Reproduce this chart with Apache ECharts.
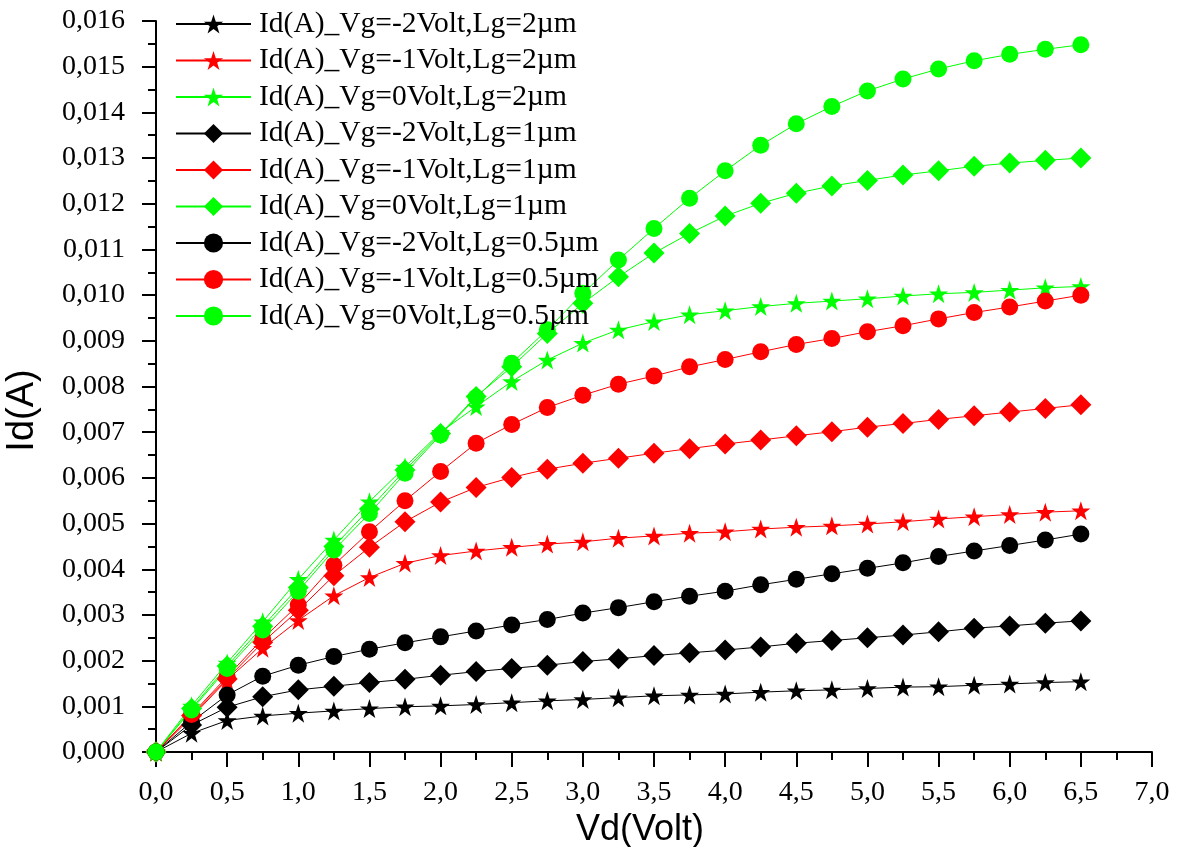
<!DOCTYPE html>
<html>
<head>
<meta charset="utf-8">
<title>Id-Vd characteristics</title>
<script src="https://cdn.jsdelivr.net/npm/echarts@6/dist/echarts.min.js"></script>
<style>
  html, body { margin: 0; padding: 0; background: #ffffff; }
  #chart { width: 1181px; height: 847px; }
</style>
</head>
<body>
<div id="chart"></div>
<script>
// Drain voltage sweep (V)
const vd = [0, 0.25, 0.5, 0.75, 1.0, 1.25, 1.5, 1.75, 2.0, 2.25, 2.5, 2.75, 3.0, 3.25,
            3.5, 3.75, 4.0, 4.25, 4.5, 4.75, 5.0, 5.25, 5.5, 5.75, 6.0, 6.25, 6.5];

// Drain current (A), Lg = 2 µm
const idVgm2Lg2 = [0, 0.00041, 0.00069, 0.00079, 0.00085, 0.00090, 0.00095, 0.00099, 0.00101, 0.00104, 0.00108, 0.00112, 0.00115, 0.00119,
                   0.00123, 0.00125, 0.00127, 0.00131, 0.00134, 0.00136, 0.00139, 0.00142, 0.00143, 0.00146, 0.00149, 0.00152, 0.00154];
const idVgm1Lg2 = [0, 0.00076, 0.00158, 0.00227, 0.00288, 0.00342, 0.00382, 0.00413, 0.00430, 0.00440, 0.00448, 0.00455, 0.00460, 0.00468,
                   0.00473, 0.00479, 0.00482, 0.00488, 0.00492, 0.00495, 0.00499, 0.00504, 0.00510, 0.00515, 0.00520, 0.00525, 0.00528];
const idVg0Lg2 = [0, 0.00101, 0.00195, 0.00285, 0.00378, 0.00464, 0.00548, 0.00624, 0.00700, 0.00756, 0.00811, 0.00858, 0.00895, 0.00924,
                  0.00942, 0.00957, 0.00966, 0.00975, 0.00982, 0.00987, 0.00992, 0.00998, 0.01003, 0.01006, 0.01011, 0.01016, 0.01019];

// Drain current (A), Lg = 1 µm
const idVgm2Lg1 = [0, 0.00059, 0.00098, 0.00121, 0.00136, 0.00144, 0.00152, 0.00159, 0.00168, 0.00176, 0.00183, 0.00190, 0.00198, 0.00204,
                   0.00211, 0.00217, 0.00223, 0.00230, 0.00238, 0.00244, 0.00250, 0.00256, 0.00263, 0.00271, 0.00276, 0.00282, 0.00287];
const idVgm1Lg1 = [0, 0.00080, 0.00160, 0.00240, 0.00310, 0.00386, 0.00448, 0.00504, 0.00547, 0.00579, 0.00601, 0.00619, 0.00632, 0.00643,
                   0.00654, 0.00664, 0.00674, 0.00683, 0.00692, 0.00701, 0.00711, 0.00719, 0.00728, 0.00736, 0.00744, 0.00752, 0.00760];
const idVg0Lg1 = [0, 0.00095, 0.00188, 0.00275, 0.00360, 0.00450, 0.00532, 0.00617, 0.00697, 0.00778, 0.00843, 0.00916, 0.00982, 0.01040,
                  0.01092, 0.01135, 0.01173, 0.01201, 0.01223, 0.01239, 0.01251, 0.01263, 0.01272, 0.01282, 0.01289, 0.01295, 0.01300];

// Drain current (A), Lg = 0.5 µm
const idVgm2Lg05 = [0, 0.00066, 0.00125, 0.00166, 0.00190, 0.00209, 0.00225, 0.00239, 0.00252, 0.00265, 0.00278, 0.00290, 0.00304, 0.00316,
                    0.00329, 0.00341, 0.00352, 0.00366, 0.00378, 0.00390, 0.00402, 0.00414, 0.00428, 0.00440, 0.00452, 0.00464, 0.00477];
const idVgm1Lg05 = [0, 0.00082, 0.00165, 0.00248, 0.00322, 0.00409, 0.00482, 0.00550, 0.00614, 0.00676, 0.00717, 0.00754, 0.00781, 0.00805,
                    0.00823, 0.00843, 0.00859, 0.00876, 0.00892, 0.00905, 0.00920, 0.00933, 0.00948, 0.00962, 0.00974, 0.00987, 0.01000];
const idVg0Lg05 = [0, 0.00092, 0.00183, 0.00267, 0.00352, 0.00442, 0.00522, 0.00610, 0.00694, 0.00776, 0.00851, 0.00924, 0.01004, 0.01077,
                   0.01146, 0.01212, 0.01272, 0.01328, 0.01375, 0.01413, 0.01447, 0.01473, 0.01495, 0.01513, 0.01527, 0.01538, 0.01548];

const seriesNames = [
  'Id(A)_Vg=-2Volt,Lg=2\u00b5m',
  'Id(A)_Vg=-1Volt,Lg=2\u00b5m',
  'Id(A)_Vg=0Volt,Lg=2\u00b5m',
  'Id(A)_Vg=-2Volt,Lg=1\u00b5m',
  'Id(A)_Vg=-1Volt,Lg=1\u00b5m',
  'Id(A)_Vg=0Volt,Lg=1\u00b5m',
  'Id(A)_Vg=-2Volt,Lg=0.5\u00b5m',
  'Id(A)_Vg=-1Volt,Lg=0.5\u00b5m',
  'Id(A)_Vg=0Volt,Lg=0.5\u00b5m'
];
const seriesValues = [idVgm2Lg2, idVgm1Lg2, idVg0Lg2, idVgm2Lg1, idVgm1Lg1, idVg0Lg1, idVgm2Lg05, idVgm1Lg05, idVg0Lg05];

// Styling: colour per gate voltage, marker per gate length
const BLACK = '#000000', RED = '#ff0000', GREEN = '#00ff00';
const STAR = 'path://M50,0 L61.8,35.1 L98.9,35.1 L68.8,56.7 L80.3,91.5 L50,70 L19.7,91.5 L31.2,56.7 L1.1,35.1 L38.2,35.1 Z';
const styles = [
  { color: BLACK, symbol: STAR, size: 19 },
  { color: RED, symbol: STAR, size: 19 },
  { color: GREEN, symbol: STAR, size: 19 },
  { color: BLACK, symbol: 'diamond', size: 21 },
  { color: RED, symbol: 'diamond', size: 21 },
  { color: GREEN, symbol: 'diamond', size: 21 },
  { color: BLACK, symbol: 'circle', size: 17 },
  { color: RED, symbol: 'circle', size: 17 },
  { color: GREEN, symbol: 'circle', size: 17 }
];

const serif = '"Liberation Serif", "Times New Roman", serif';
const sans = '"Liberation Sans", Arial, sans-serif';

const series = seriesNames.map((name, i) => ({
  name: name,
  type: 'line',
  data: vd.map((x, k) => [x, seriesValues[i][k]]),
  symbol: styles[i].symbol,
  symbolSize: styles[i].size,
  showAllSymbol: true,
  clip: false,
  lineStyle: { color: styles[i].color, width: 1 },
  itemStyle: { color: styles[i].color, borderWidth: 0 },
  emphasis: { disabled: true },
  animation: false
}));

const chart = echarts.init(document.getElementById('chart'), null, { renderer: 'canvas' });
chart.setOption({
  backgroundColor: '#ffffff',
  animation: false,
  grid: { left: 156, right: 29, top: 21, bottom: 95, containLabel: false, outerBoundsMode: 'none' },
  legend: {
    orient: 'vertical',
    left: 175,
    top: 9,
    padding: 0,
    itemWidth: 75,
    itemHeight: 24,
    itemGap: 6.5,
    selectedMode: false,
    textStyle: { fontFamily: serif, fontSize: 29.5, color: '#000', lineHeight: 30, padding: [0, 0, 0, 3] },
    data: seriesNames
  },
  xAxis: {
    type: 'value',
    min: 0,
    max: 7,
    interval: 0.5,
    name: 'Vd(Volt)',
    nameLocation: 'middle',
    nameGap: 53,
    nameTextStyle: { fontFamily: sans, fontSize: 36, color: '#000', padding: [0, 28, 0, 0] },
    axisLine: { show: true, onZero: false, lineStyle: { color: '#000', width: 2 } },
    axisTick: { show: true, inside: false, length: 15, lineStyle: { color: '#000', width: 2 } },
    minorTick: { show: true, splitNumber: 2, length: 8, lineStyle: { color: '#000', width: 2 } },
    axisLabel: {
      margin: 27,
      fontFamily: serif,
      fontSize: 28,
      color: '#000',
      formatter: v => v.toFixed(1).replace('.', ',')
    },
    splitLine: { show: false },
    minorSplitLine: { show: false }
  },
  yAxis: {
    type: 'value',
    min: 0,
    max: 0.016,
    interval: 0.001,
    name: 'Id(A)',
    nameLocation: 'middle',
    nameGap: 114,
    nameRotate: 90,
    nameTextStyle: { fontFamily: sans, fontSize: 38, color: '#000', padding: [0, 48, 0, 0] },
    axisLine: { show: true, onZero: false, lineStyle: { color: '#000', width: 2 } },
    axisTick: { show: true, inside: false, length: 14, lineStyle: { color: '#000', width: 2 } },
    minorTick: { show: true, splitNumber: 2, length: 8, lineStyle: { color: '#000', width: 2 } },
    axisLabel: {
      margin: 31,
      fontFamily: serif,
      fontSize: 28,
      color: '#000',
      formatter: v => v.toFixed(3).replace('.', ',')
    },
    splitLine: { show: false },
    minorSplitLine: { show: false }
  },
  series: series
});
</script>
</body>
</html>
